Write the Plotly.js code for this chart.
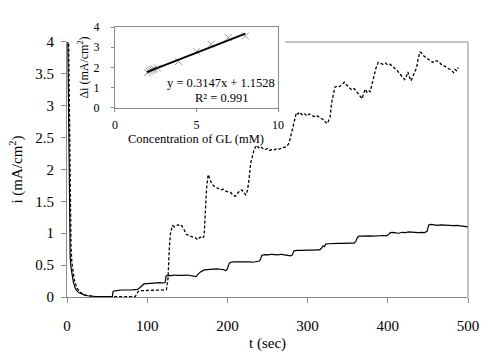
<!DOCTYPE html>
<html>
<head>
<meta charset="utf-8">
<script src="https://cdn.plot.ly/plotly-3.0.1.min.js"></script>
<style>html,body{margin:0;padding:0;background:#fff;}#chart{width:499px;height:358px;}</style>
</head>
<body>
<div id="chart"></div>
<script>
// Solid curve (time in sec, current density in mA/cm2)
var solidT = [0.5,2,3,4,5,6,8,10,12,15,18,22,26,30,36,42,48,54,56.5,57.5,60,64,68,72,76,80,84,88,91,94,96,100,104,108,112,116,120,122.5,123.5,126,130,134,138,142,146,150,154,158,161,163,166,169,171,175,179,183,187,191,195,198,200,202,204,208,212,216,220,224,228,232,236,240,241.5,243,247,251,255,259,263,267,271,275,279,281,283,287,291,295,299,303,307,311,315,317,319,321,322.5,326,330,334,338,342,346,350,354,358,360,362,364,366,370,374,378,382,386,390,394,398,401,403,406,410,414,418,422,426,430,434,438,442,446,449,451,454,458,462,466,470,474,478,482,486,490,494,498,500];
var solidI = [4.6,3.0,1.3,0.62,0.46,0.36,0.23,0.15,0.1,0.065,0.045,0.03,0.02,0.013,0.008,0.006,0.005,0.005,0.006,0.09,0.1,0.105,0.11,0.108,0.112,0.11,0.115,0.12,0.15,0.19,0.205,0.21,0.215,0.22,0.218,0.225,0.22,0.23,0.33,0.34,0.335,0.345,0.34,0.335,0.34,0.345,0.34,0.335,0.32,0.35,0.39,0.41,0.425,0.43,0.435,0.43,0.44,0.435,0.43,0.41,0.44,0.52,0.545,0.55,0.545,0.55,0.55,0.555,0.55,0.545,0.56,0.565,0.6,0.655,0.665,0.66,0.67,0.665,0.66,0.67,0.665,0.66,0.645,0.66,0.725,0.73,0.725,0.73,0.735,0.73,0.735,0.74,0.74,0.76,0.8,0.79,0.83,0.835,0.84,0.835,0.84,0.84,0.845,0.84,0.845,0.845,0.87,0.93,0.955,0.955,0.96,0.955,0.96,0.955,0.96,0.96,0.965,0.96,0.98,1.01,1.015,1.005,1.0,1.015,1.01,1.02,1.015,1.005,1.01,1.015,1.01,1.03,1.13,1.14,1.13,1.125,1.13,1.125,1.13,1.125,1.12,1.125,1.12,1.115,1.11,1.1];

// Dashed curve
var dashT = [1.5,3,4,5,6,7,9,11,13,16,20,24,28,34,40,50,60,70,80,85,87,89,92,96,100,104,108,112,116,120,124,126,127.5,129,131.5,134,136,139,141,143,145,147,149,151,154,157,160,163,166,169,171,172.5,174,176,178,180,183,186,189,192,195,198,201,204,207,210,212,215,218,220,223,225,227,229,231,233,235,237,239,241,244,247,250,253,256,259,262,265,268,271,274,277,279,282,284,286,288,290,293,296,299,302,305,308,311,314,317,320,322,324,326,328,330,332,334,337,340,343,346,349,352,355,358,361,364,366,368,370,372,374,376,378,381,383,385,388,391,394,397,400,403,406,409,412,415,417,419,421,423,425,427,429,431,433,436,438,440,442,444,447,450,453,456,459,462,465,468,471,474,477,480,482,484,486,488];
var dashI = [4.6,3.0,1.5,0.8,0.55,0.42,0.28,0.19,0.13,0.08,0.045,0.025,0.015,0.008,0.005,0.003,0.002,0.002,0.003,0.005,0.05,0.09,0.1,0.1,0.105,0.1,0.105,0.11,0.105,0.11,0.115,0.3,0.75,1.0,1.12,1.1,1.12,1.13,1.11,1.12,1.08,1.02,0.98,0.97,0.95,0.94,0.93,0.9,0.94,0.92,0.96,1.3,1.7,1.92,1.85,1.79,1.74,1.72,1.7,1.68,1.69,1.66,1.65,1.64,1.6,1.58,1.62,1.66,1.68,1.64,1.6,1.67,1.84,2.1,2.22,2.3,2.35,2.38,2.34,2.36,2.33,2.31,2.33,2.3,2.32,2.31,2.33,2.32,2.34,2.35,2.36,2.42,2.52,2.68,2.8,2.89,2.87,2.9,2.86,2.88,2.84,2.87,2.85,2.83,2.85,2.82,2.8,2.78,2.75,2.72,2.76,2.82,3.05,3.2,3.29,3.31,3.3,3.34,3.37,3.32,3.28,3.25,3.27,3.22,3.18,3.14,3.11,3.2,3.26,3.21,3.24,3.22,3.37,3.5,3.58,3.68,3.66,3.65,3.67,3.64,3.65,3.62,3.58,3.55,3.5,3.47,3.43,3.41,3.46,3.53,3.45,3.39,3.45,3.5,3.6,3.75,3.84,3.83,3.79,3.76,3.73,3.71,3.68,3.71,3.7,3.67,3.63,3.62,3.6,3.58,3.55,3.52,3.57,3.55,3.6];

// Inset: calibration points and trendline
var concGL = [2.0,2.1,2.2,2.3,2.4,2.6,3.9,5.0,5.9,6.95,8.0];
var deltaI = [1.75,1.82,1.86,1.9,1.93,1.97,2.3,2.78,3.15,3.48,3.56];
var fitConc = [1.95,8.0];
var fitDelta = [1.77,3.67];

var xTicks = [0,100,200,300,400,500];
var yTicks = [0,0.5,1,1.5,2,2.5,3,3.5,4];
var insetXTicks = [0,5,10];
var insetYTicks = [0,1,2,3,4];

var fontFam = 'Liberation Serif';
var gray = '#8a8a8a';

var traces = [
  {x: solidT, y: solidI, type: 'scatter', mode: 'lines', line: {color: '#000', width: 1.2}, xaxis: 'x', yaxis: 'y', hoverinfo: 'skip'},
  {x: dashT, y: dashI, type: 'scatter', mode: 'lines', line: {color: '#000', width: 1.3, dash: '3px,2px'}, xaxis: 'x', yaxis: 'y', hoverinfo: 'skip'},
  {x: concGL, y: deltaI, type: 'scatter', mode: 'markers', marker: {symbol: 'x-thin-open', size: 7, color: '#999', line: {color: '#999', width: 1}}, xaxis: 'x2', yaxis: 'y2', hoverinfo: 'skip'},
  {x: fitConc, y: fitDelta, type: 'scatter', mode: 'lines', line: {color: '#000', width: 2}, xaxis: 'x2', yaxis: 'y2', hoverinfo: 'skip'}
];

var mainTop = 0.9206;
var layout = {
  width: 499, height: 358,
  margin: {l: 67, r: 31, t: 20, b: 61},
  paper_bgcolor: '#fff', plot_bgcolor: 'rgba(0,0,0,0)',
  showlegend: false,
  font: {family: fontFam, color: '#000'},
  xaxis: {
    domain: [0, 1], range: [0, 500], tickvals: xTicks, ticks: 'outside', ticklen: 5, tickcolor: gray,
    showline: true, linecolor: gray, linewidth: 1, showgrid: false, zeroline: false,
    tickfont: {family: fontFam, size: 15, color: '#000'}, ticklabelstandoff: 10,
    title: {text: 't (sec)', font: {family: fontFam, size: 15, color: '#000'}, standoff: 4},
    anchor: 'y', fixedrange: true
  },
  yaxis: {
    domain: [0, mainTop], range: [0, 4], tickvals: yTicks, ticks: 'outside', ticklen: 5, tickcolor: gray,
    showline: true, linecolor: gray, linewidth: 1, showgrid: false, zeroline: false,
    tickfont: {family: fontFam, size: 15, color: '#000'}, ticklabelstandoff: 4,
    title: {text: 'i (mA/cm<sup>2</sup>)', font: {family: fontFam, size: 15, color: '#000'}, standoff: 8},
    anchor: 'x', fixedrange: true
  },
  xaxis2: {
    domain: [0.1197, 0.5262], range: [0, 10], tickvals: insetXTicks, ticks: 'outside', ticklen: 3, tickcolor: gray,
    showline: true, mirror: true, linecolor: gray, linewidth: 1, showgrid: false, zeroline: false,
    tickfont: {family: fontFam, size: 12, color: '#000'}, ticklabelstandoff: 3,
    anchor: 'y2', fixedrange: true
  },
  yaxis2: {
    domain: [0.6823, 0.9747], range: [0, 4], tickvals: insetYTicks, ticks: 'outside', ticklen: 3, tickcolor: gray,
    showline: true, mirror: true, linecolor: gray, linewidth: 1, showgrid: false, zeroline: false,
    tickfont: {family: fontFam, size: 12, color: '#000'}, ticklabelstandoff: 9,
    title: {text: 'Δi (mA/cm<sup>2</sup>)', font: {family: fontFam, size: 12, color: '#000'}, standoff: 2},
    anchor: 'x2', fixedrange: true
  },
  shapes: [
    {type: 'line', xref: 'paper', yref: 'paper', x0: 0.5436, x1: 1, y0: mainTop, y1: mainTop, line: {color: gray, width: 1}},
    {type: 'line', xref: 'paper', yref: 'paper', x0: 1, x1: 1, y0: 0, y1: mainTop, line: {color: gray, width: 1}}
  ],
  annotations: [
    {text: 'Concentration of GL (mM)', xref: 'paper', yref: 'paper', x: 0.3229, y: 0.5722, xanchor: 'center', yanchor: 'middle', showarrow: false, font: {family: fontFam, size: 12.5, color: '#000'}},
    {text: 'y = 0.3147x + 1.1528', xref: 'paper', yref: 'paper', x: 0.5237, y: 0.7726, xanchor: 'right', yanchor: 'middle', showarrow: false, font: {family: fontFam, size: 12.5, color: '#000'}},
    {text: 'R² = 0.991', xref: 'paper', yref: 'paper', x: 0.3865, y: 0.7184, xanchor: 'center', yanchor: 'middle', showarrow: false, font: {family: fontFam, size: 12.5, color: '#000'}}
  ]
};

Plotly.newPlot('chart', traces, layout, {staticPlot: true, displayModeBar: false});
</script>
</body>
</html>
